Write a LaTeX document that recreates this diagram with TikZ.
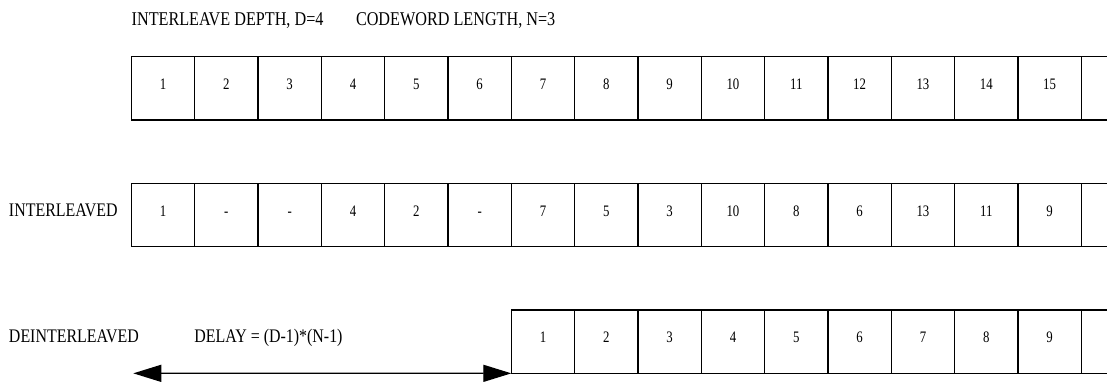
\documentclass[tikz,border=0pt]{standalone}
\usepackage{fontspec}
\setmainfont{Liberation Serif}
\newfontfamily\lblfont[FakeStretch=0.83]{Liberation Serif}
\newfontfamily\numfont[FakeStretch=0.8]{Liberation Serif}
\usetikzlibrary{arrows.meta}
\begin{document}
\begin{tikzpicture}[x=1pt,y=-1pt,
  cell/.style={draw,line width=1.3pt,minimum width=63.33pt,minimum height=63.33pt,
    inner sep=0pt,outer sep=0pt,text height=10pt,text depth=8pt,
    font=\numfont\fontsize{16}{19}\selectfont},
  lbl/.style={inner sep=0pt,outer sep=0pt,anchor=base west,
    font=\lblfont\fontsize{19.2}{23}\selectfont},
  hdr/.style={lbl,font=\lblfont\fontsize{19.5}{23}\selectfont},
  dimarrow/.style={line width=1.3pt,
    {Triangle[length=28pt,width=17pt]}-{Triangle[length=28pt,width=17pt]}}]
\clip (0,0) rectangle (1107,381);
% header
\node[hdr] (hdepth) at (131.7,25) {INTERLEAVE DEPTH, D=4};
\node[hdr] (hlen) at (356,25) {CODEWORD LENGTH, N=3};
% row 1
\foreach \t [count=\i] in {1,2,3,4,5,6,7,8,9,10,11,12,13,14,15}
  \node[cell] (a\i) at ({99.67+63.33*\i},88.33) {\t};
\node[cell] (a16) at ({99.67+63.33*16},88.33) {};
% row 2
\node[lbl] (linter) at (9,216) {INTERLEAVED};
\foreach \t [count=\i] in {1,-,-,4,2,-,7,5,3,10,8,6,13,11,9}
  \node[cell] (b\i) at ({99.67+63.33*\i},215) {\t};
\node[cell] (b16) at ({99.67+63.33*16},215) {};
% row 3
\node[lbl] (ldeint) at (9,342.67) {DEINTERLEAVED};
\node[lbl] (ldelay) at (194.3,342.67) {DELAY = (D-1)*(N-1)};
\foreach \t [count=\i] in {1,2,3,4,5,6,7,8,9}
  \node[cell] (c\i) at ({479.67+63.33*\i},341.67) {\t};
\node[cell] (c10) at ({479.67+63.33*10},341.67) {};
% delay arrow
\coordinate (arrL) at (133.3,373.33);
\draw[dimarrow] (arrL) -- (c1.south west);
\end{tikzpicture}
\end{document}
